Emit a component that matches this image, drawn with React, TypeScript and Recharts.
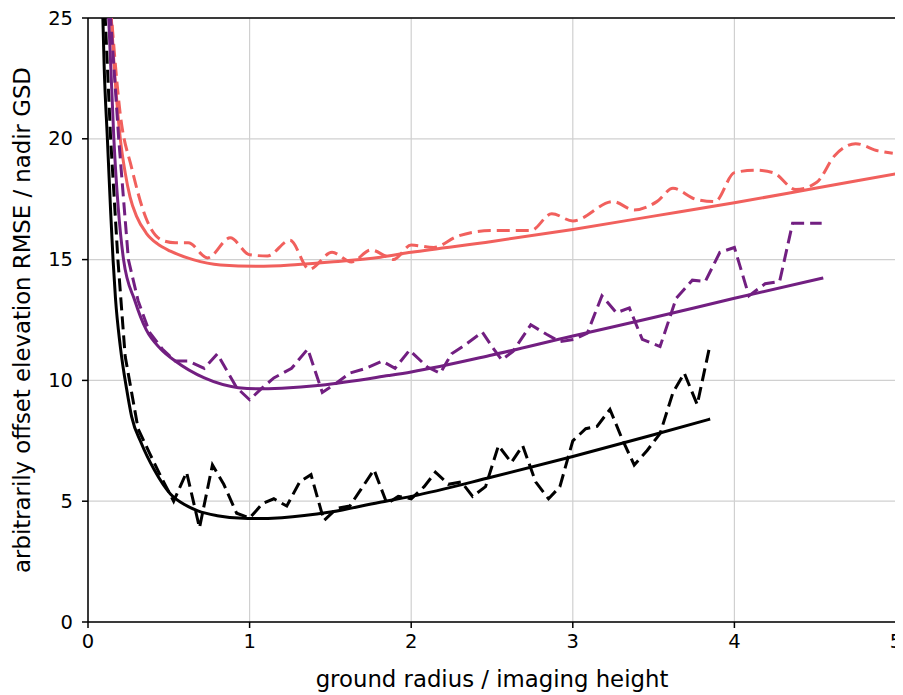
import React from 'react'
import { LineChart, Line, XAxis, YAxis, CartesianGrid, ReferenceLine, Label } from 'recharts'

type Pt = { x: number; y: number }

// solid model curves
const blackFitX = [0.09, 0.1, 0.12, 0.14, 0.155, 0.17, 0.2, 0.24, 0.27, 0.33, 0.41, 0.51, 0.6, 0.68, 0.8, 0.99, 1.2, 1.5, 1.8, 2.0, 2.5, 3.0, 3.5, 3.85]
const blackFitY = [25.5, 23, 20, 17, 15, 13.4, 11.4, 9.6, 8.5, 7.4, 6.3, 5.3, 4.85, 4.6, 4.4, 4.28, 4.32, 4.55, 4.95, 5.2, 6.0, 6.85, 7.75, 8.4]

const purpleFitX = [0.125, 0.16, 0.22, 0.29, 0.36, 0.45, 0.54, 0.72, 0.93, 1.05, 1.2, 1.44, 1.86, 2.0, 2.5, 3.0, 3.5, 4.0, 4.55]
const purpleFitY = [25.5, 20, 15, 13.3, 12.1, 11.3, 10.8, 10.1, 9.7, 9.65, 9.68, 9.8, 10.2, 10.35, 11.05, 11.84, 12.6, 13.4, 14.24]

const redFitX = [0.14, 0.16, 0.18, 0.2, 0.23, 0.26, 0.3, 0.36, 0.43, 0.51, 0.65, 0.82, 1.05, 1.3, 1.5, 1.81, 2.0, 2.5, 3.0, 3.5, 4.0, 4.5, 5.0]
const redFitY = [25.5, 23.2, 21.4, 20, 18.6, 17.6, 16.8, 16.1, 15.65, 15.35, 15.0, 14.78, 14.72, 14.8, 14.9, 15.1, 15.3, 15.75, 16.25, 16.8, 17.35, 17.95, 18.55]

// dashed measured curves
const blackObsX = [0.1, 0.14, 0.185, 0.23, 0.31, 0.38, 0.46, 0.53, 0.61, 0.69, 0.77, 0.84, 0.92, 1.0, 1.08, 1.15, 1.23, 1.31, 1.38, 1.46, 1.54, 1.62, 1.69, 1.77, 1.85, 1.92, 2.0, 2.08, 2.15, 2.23, 2.31, 2.38, 2.46, 2.54, 2.62, 2.69, 2.77, 2.85, 2.92, 3.0, 3.08, 3.15, 3.23, 3.31, 3.38, 3.46, 3.54, 3.62, 3.69, 3.77, 3.85]
const blackObsY = [26, 20, 15, 11, 8.0, 7.0, 5.9, 5.0, 6.2, 3.9, 6.5, 5.7, 4.5, 4.3, 4.9, 5.1, 4.8, 5.8, 6.1, 4.2, 4.7, 4.8, 5.5, 6.3, 4.9, 5.2, 5.1, 5.6, 6.2, 5.7, 5.8, 5.2, 5.6, 7.3, 6.6, 7.3, 5.8, 5.1, 5.6, 7.5, 8.0, 8.1, 8.8, 7.5, 6.5, 7.1, 7.8, 9.5, 10.3, 9.0, 11.5]

const purpleObsX = [0.13, 0.19, 0.25, 0.31, 0.38, 0.46, 0.54, 0.62, 0.72, 0.8, 0.92, 1.0, 1.08, 1.15, 1.26, 1.36, 1.45, 1.54, 1.62, 1.72, 1.82, 1.9, 1.99, 2.1, 2.18, 2.25, 2.34, 2.44, 2.5, 2.56, 2.63, 2.74, 2.84, 2.92, 3.01, 3.09, 3.18, 3.27, 3.35, 3.43, 3.54, 3.64, 3.74, 3.82, 3.91, 4.0, 4.09, 4.19, 4.28, 4.36, 4.54]
const purpleObsY = [26, 20, 15, 13.3, 12.0, 11.3, 10.8, 10.8, 10.5, 11.1, 9.7, 9.2, 9.7, 10.1, 10.5, 11.3, 9.5, 9.9, 10.3, 10.5, 10.8, 10.5, 11.25, 10.55, 10.3, 11.1, 11.5, 12.0, 11.4, 10.85, 11.2, 12.3, 11.9, 11.6, 11.7, 11.96, 13.5, 12.8, 13.0, 11.7, 11.4, 13.4, 14.15, 14.1, 15.3, 15.5, 13.5, 14.0, 14.1, 16.5, 16.5]

const redObsX = [0.14, 0.2, 0.27, 0.36, 0.46, 0.54, 0.62, 0.74, 0.88, 1.0, 1.11, 1.25, 1.37, 1.51, 1.63, 1.75, 1.84, 1.89, 2.0, 2.14, 2.28, 2.49, 2.74, 2.87, 3.0, 3.25, 3.38, 3.52, 3.62, 3.76, 3.88, 4.0, 4.13, 4.24, 4.38, 4.51, 4.62, 4.75, 4.89, 4.98]
const redObsY = [25.5, 21.0, 18.8, 16.7, 15.8, 15.7, 15.7, 15.07, 15.9, 15.2, 15.15, 15.8, 14.6, 15.3, 14.9, 15.4, 15.15, 15.0, 15.6, 15.5, 15.95, 16.2, 16.2, 16.9, 16.6, 17.4, 17.05, 17.4, 17.95, 17.5, 17.4, 18.6, 18.7, 18.6, 17.9, 18.2, 19.3, 19.8, 19.5, 19.4]

const xTicks = [0, 1, 2, 3, 4, 5]
const yTicks = [0, 5, 10, 15, 20, 25]

const zip = (xs: number[], ys: number[]): Pt[] => xs.map((x, i) => ({ x, y: ys[i] }))

const RED = '#f1605d'
const PURPLE = '#721f81'
const FONT = '"DejaVu Sans", sans-serif'
const labelFont = { fontSize: 22.8, fill: '#000', fontFamily: FONT }

const XTick = (props: any) => (
  <text x={props.x} y={props.y + 9} textAnchor="middle" dominantBaseline="central" fontSize={19.5} fontFamily={FONT} fill="#000">
    {props.payload.value}
  </text>
)

const YTick = (props: any) => (
  <text x={props.x} y={props.y} textAnchor="end" dominantBaseline="central" fontSize={19.5} fontFamily={FONT} fill="#000">
    {props.payload.value}
  </text>
)

export default function App() {
  return (
    <div style={{ width: 895, height: 687, background: '#fff' }}>
      <LineChart width={895} height={687} margin={{ top: 10, right: 7, left: 0, bottom: 0 }} style={{ overflow: 'visible' }}>
        <CartesianGrid stroke="#d0d0d0" strokeWidth={1.2} />
        <XAxis
          type="number"
          dataKey="x"
          domain={[0, 5]}
          ticks={xTicks}
          height={73}
          stroke="#000"
          strokeWidth={1.5}
          tickSize={6}
          tickMargin={4}
          tick={XTick}
          allowDataOverflow
        >
          <Label
            content={() => (
              <text x={484} y={671} textAnchor="middle" dominantBaseline="central" style={labelFont}>
                ground radius / imaging height
              </text>
            )}
          />
        </XAxis>
        <YAxis
          type="number"
          dataKey="y"
          domain={[0, 25]}
          ticks={yTicks}
          width={80}
          stroke="#000"
          strokeWidth={1.5}
          tickSize={6}
          tickMargin={9}
          tick={YTick}
          allowDataOverflow
        >
          <Label
            content={() => (
              <text transform="translate(14, 312) rotate(-90)" textAnchor="middle" dominantBaseline="central" style={labelFont}>
                arbitrarily offset elevation RMSE / nadir GSD
              </text>
            )}
          />
        </YAxis>
        <ReferenceLine y={25} stroke="#000" strokeWidth={1.5} />
        <ReferenceLine x={5} stroke="#000" strokeWidth={1.5} />
        <Line data={zip(redFitX, redFitY)} dataKey="y" type="monotone" stroke={RED} strokeWidth={3} dot={false} isAnimationActive={false} />
        <Line data={zip(redObsX, redObsY)} dataKey="y" type="monotone" stroke={RED} strokeWidth={3} strokeDasharray="13 6" dot={false} isAnimationActive={false} />
        <Line data={zip(purpleFitX, purpleFitY)} dataKey="y" type="monotone" stroke={PURPLE} strokeWidth={3} dot={false} isAnimationActive={false} />
        <Line data={zip(purpleObsX, purpleObsY)} dataKey="y" type="linear" stroke={PURPLE} strokeWidth={3} strokeDasharray="13 6" dot={false} isAnimationActive={false} />
        <Line data={zip(blackFitX, blackFitY)} dataKey="y" type="monotone" stroke="#000" strokeWidth={3} dot={false} isAnimationActive={false} />
        <Line data={zip(blackObsX, blackObsY)} dataKey="y" type="linear" stroke="#000" strokeWidth={3} strokeDasharray="13 6" dot={false} isAnimationActive={false} />
      </LineChart>
    </div>
  )
}
